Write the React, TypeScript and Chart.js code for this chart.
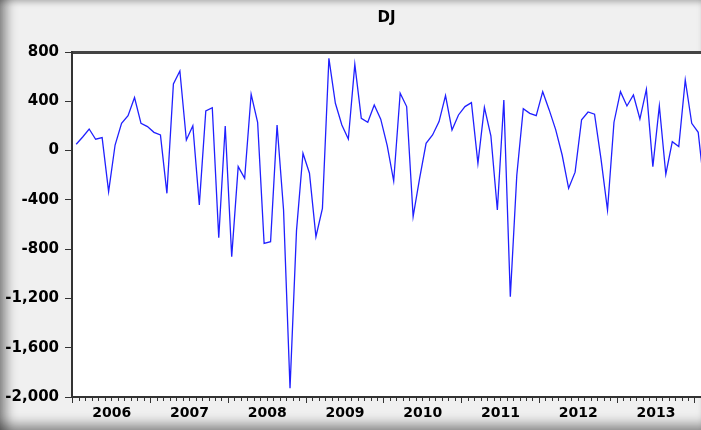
import React, { useEffect, useRef } from 'react';
import { Chart, registerables } from 'chart.js';

Chart.register(...registerables);

const chartTitle = 'DJ';
const startYear = 2006;
const yearLabels = ['2006', '2007', '2008', '2009', '2010', '2011', '2012', '2013'];
const yTickValues = [800, 400, 0, -400, -800, -1200, -1600, -2000];

// Monthly values, 2006M01 .. 2014M02
const djValues = [
  51, 110, 175, 92, 105, -333, 45, 221, 283, 430, 221, 195,
  148, 127, -347, 540, 646, 86, 202, -441, 321, 348, -707, 200,
  -861, -130, -225, 457, 230, -753, -739, 208, -480, -1929, -650, -22,
  -184, -699, -469, 749, 384, 208, 94, 700, 262, 230, 370, 255,
  40, -247, 465, 357, -536, -225, 59, 127, 235, 446, 167, 289,
  357, 389, -103, 350, 120, -482, 410, -1186, -200, 340, 302, 283,
  478, 330, 170, -36, -306, -175, 250, 313, 295, -70, -482, 230,
  478, 362, 451, 256, 497, -130, 362, -192, 72, 32, 573, 221,
  148, -330,
];

const monthCategories = djValues.map(
  (_, i) => `${startYear + Math.floor(i / 12)}M${String((i % 12) + 1).padStart(2, '0')}`
);

const X_MIN = -0.15;
const X_MAX = 96.93;
const AXIS_COLOR = '#333333';
const FONT = 'DejaVu Sans';

const plotBackground = {
  id: 'plotBackground',
  beforeDraw(chart: any) {
    const { ctx, chartArea } = chart;
    if (!chartArea) return;
    ctx.save();
    ctx.fillStyle = '#ffffff';
    ctx.fillRect(chartArea.left, chartArea.top, chartArea.right - chartArea.left, chartArea.bottom - chartArea.top);
    ctx.restore();
  },
};

export default function App() {
  const canvasRef = useRef<HTMLCanvasElement | null>(null);

  useEffect(() => {
    if (!canvasRef.current) return;
    const points = djValues.map((v, i) => ({ x: i + 0.5, y: v }));
    const chart = new Chart(canvasRef.current, {
      type: 'line',
      data: {
        labels: monthCategories,
        datasets: [
          {
            label: chartTitle,
            data: points,
            borderColor: '#2020ff',
            borderWidth: 1.3,
            pointRadius: 0,
            tension: 0,
            fill: false,
            xAxisID: 'x',
            yAxisID: 'y',
          },
        ],
      },
      options: {
        animation: false,
        responsive: false,
        devicePixelRatio: 1,
        layout: { padding: 0 },
        plugins: {
          legend: { display: false },
          tooltip: { enabled: false },
          title: {
            display: true,
            text: chartTitle,
            fullSize: false,
            color: '#000000',
            font: { family: FONT, size: 15, weight: 'bold' },
            padding: { top: 9, bottom: 25 },
          },
        },
        scales: {
          x: {
            type: 'linear',
            position: 'bottom',
            min: X_MIN,
            max: X_MAX,
            afterBuildTicks: (scale: any) => {
              const ticks = [];
              for (let k = 0; k <= 96; k++) ticks.push({ value: k });
              scale.ticks = ticks;
            },
            afterFit: (scale: any) => {
              scale.height = 33;
            },
            ticks: {
              autoSkip: false,
              maxRotation: 0,
              minRotation: 0,
              padding: 2,
              color: '#000000',
              font: { family: FONT, size: 14, weight: 'bold' },
              callback: (value: any) => {
                const v = Number(value);
                if (v % 12 === 6) {
                  const idx = (v - 6) / 12;
                  return yearLabels[idx] ?? '';
                }
                return '';
              },
            },
            grid: {
              drawOnChartArea: false,
              drawTicks: true,
              tickLength: 6,
              tickColor: AXIS_COLOR,
              tickWidth: 1,
              tickBorderDash: (ctx: any) =>
                ctx.tick && Number(ctx.tick.value) % 12 === 0 ? [] : [3, 20],
            },
            border: { display: true, color: AXIS_COLOR, width: 2 },
          },
          xTop: {
            type: 'linear',
            position: 'top',
            min: X_MIN,
            max: X_MAX,
            afterFit: (scale: any) => {
              scale.height = 0;
            },
            ticks: { display: false },
            grid: { drawOnChartArea: false, drawTicks: false },
            border: { display: true, color: '#444444', width: 3 },
          },
          y: {
            type: 'linear',
            position: 'left',
            min: -2000,
            max: 800,
            afterBuildTicks: (scale: any) => {
              scale.ticks = yTickValues.map((v) => ({ value: v }));
            },
            afterFit: (scale: any) => {
              scale.width = 72;
            },
            ticks: {
              padding: 6,
              color: '#000000',
              font: { family: FONT, size: 15, weight: 'bold' },
              callback: (value: any) => Number(value).toLocaleString('en-US'),
            },
            grid: {
              drawOnChartArea: false,
              drawTicks: true,
              tickLength: 7,
              tickColor: AXIS_COLOR,
              tickWidth: 1,
            },
            border: { display: true, color: AXIS_COLOR, width: 2 },
          },
        },
      } as any,
      plugins: [plotBackground],
    });
    return () => chart.destroy();
  }, []);

  return (
    <div
      style={{
        position: 'fixed',
        left: 0,
        top: 0,
        width: 701,
        height: 430,
        overflow: 'hidden',
        background: '#f0f0f0',
        boxShadow:
          'inset 14px 0 12px -8px rgba(0,0,0,0.45), inset 0 -14px 12px -8px rgba(0,0,0,0.4), inset 0 6px 6px -4px rgba(0,0,0,0.25)',
      }}
    >
      <canvas ref={canvasRef} width={701} height={430} style={{ display: 'block' }} />
    </div>
  );
}
